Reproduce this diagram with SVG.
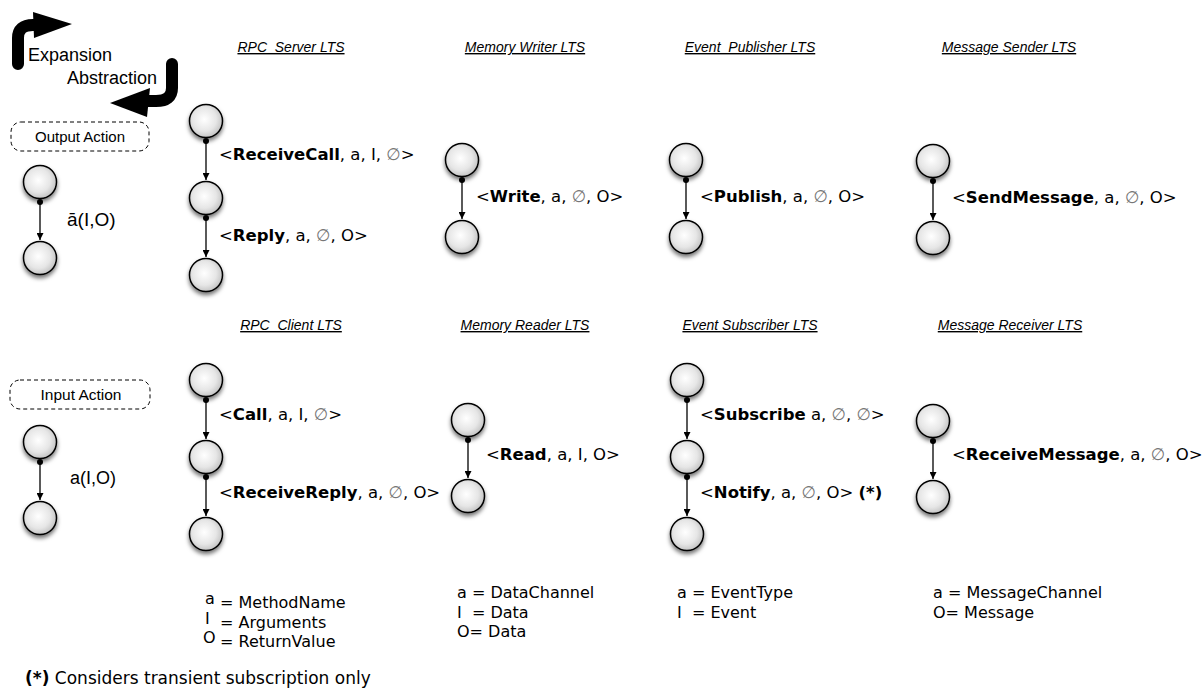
<svg xmlns="http://www.w3.org/2000/svg" width="1202" height="688" viewBox="0 0 1202 688">
<style>
.st{fill:url(#sg);stroke:#000;stroke-width:1.5;filter:url(#sh)}
.ed{stroke:#000;stroke-width:1.3;fill:none;marker-end:url(#ah)}
.dt{fill:#000}
.lb{font-family:"DejaVu Sans",Verdana,sans-serif;font-size:16.5px;fill:#000;white-space:pre}
.lg{font-family:"DejaVu Sans",Verdana,sans-serif;font-size:16px;fill:#000;white-space:pre}
.fn{font-family:"DejaVu Sans",Verdana,sans-serif;font-size:17px;fill:#000}
.b{font-weight:bold}
.e{fill:#777}
.hd{font-family:"Liberation Sans",Arial,sans-serif;font-size:14px;font-style:italic;text-decoration:underline;text-anchor:middle;white-space:pre}
.hv{font-family:"Liberation Sans",Arial,sans-serif;fill:#000}
.bx{fill:none;stroke:#000;stroke-width:1;stroke-dasharray:4 3}
.big{stroke:#000;stroke-width:12;fill:none;stroke-linecap:round;stroke-linejoin:round}
</style>
<defs>
<radialGradient id="sg" cx="0.45" cy="0.45" r="0.6">
<stop offset="0" stop-color="#ffffff"/>
<stop offset="0.6" stop-color="#e6e6e6"/>
<stop offset="1" stop-color="#bdbdbd"/>
</radialGradient>
<filter id="sh" x="-50%" y="-50%" width="200%" height="200%">
<feDropShadow dx="0" dy="3" stdDeviation="2.2" flood-color="#000" flood-opacity="0.55"/>
</filter>
<marker id="ah" viewBox="0 0 10 10" refX="10" refY="5" markerWidth="7" markerHeight="7" markerUnits="userSpaceOnUse" orient="auto">
<path d="M0,0 L10,5 L0,10 z" fill="#000"/>
</marker>
</defs>
<rect width="1202" height="688" fill="#fff"/>

<g id="legend-arrows">
<path class="big" d="M18,64 L18,38 Q18,25 33,25 L38,25"/>
<polygon points="33,12 72,24 34,38" fill="#000"/>
<text class="hv" x="28" y="61" font-size="18">Expansion</text>
<path class="big" d="M172,64 L172,88 Q172,101 156,101 L148,101"/>
<polygon points="150,88 110,103 147,117" fill="#000"/>
<text class="hv" x="67" y="84" font-size="18">Abstraction</text>
</g>

<g id="headings">
<text class="hd" x="291" y="52">RPC  Server LTS</text>
<text class="hd" x="525" y="52">Memory Writer LTS</text>
<text class="hd" x="750" y="52">Event  Publisher LTS</text>
<text class="hd" x="1009" y="52">Message Sender LTS</text>
<text class="hd" x="291" y="330">RPC  Client LTS</text>
<text class="hd" x="525" y="330">Memory Reader LTS</text>
<text class="hd" x="750" y="330">Event Subscriber LTS</text>
<text class="hd" x="1010" y="330">Message Receiver LTS</text>
</g>

<g id="output-action">
<rect class="bx" x="11" y="122" width="138" height="29" rx="10"/>
<text class="hv" x="80" y="142" font-size="15" text-anchor="middle">Output Action</text>
<circle class="st" cx="40" cy="182" r="16.5"/>
<circle class="st" cx="40" cy="258" r="16.5"/>
<text class="hv" x="67" y="226" font-size="19">ā(I,O)</text>
</g>

<g id="input-action">
<rect class="bx" x="10" y="380" width="140" height="29" rx="10"/>
<text class="hv" x="81" y="400" font-size="15.5" text-anchor="middle">Input Action</text>
<circle class="st" cx="40" cy="442" r="16.5"/>
<circle class="st" cx="40" cy="518" r="16.5"/>
<text class="hv" x="70" y="484" font-size="18">a(I,O)</text>
</g>

<g id="rpc-server">
<circle class="st" cx="206" cy="121" r="16.5"/>
<circle class="st" cx="206" cy="198" r="16.5"/>
<circle class="st" cx="206" cy="275" r="16.5"/>
<text class="lb" x="219" y="160">&lt;<tspan class="b">ReceiveCall</tspan>, a, I, <tspan class="e">∅</tspan>&gt;</text>
<text class="lb" x="219" y="241">&lt;<tspan class="b">Reply</tspan>, a, <tspan class="e">∅</tspan>, O&gt;</text>
</g>

<g id="memory-writer">
<circle class="st" cx="462" cy="160" r="16.5"/>
<circle class="st" cx="462" cy="237" r="16.5"/>
<text class="lb" x="476" y="202">&lt;<tspan class="b">Write</tspan>, a, <tspan class="e">∅</tspan>, O&gt;</text>
</g>

<g id="event-publisher">
<circle class="st" cx="686" cy="160" r="16.5"/>
<circle class="st" cx="686" cy="237" r="16.5"/>
<text class="lb" x="700" y="202">&lt;<tspan class="b">Publish</tspan>, a, <tspan class="e">∅</tspan>, O&gt;</text>
</g>

<g id="message-sender">
<circle class="st" cx="933" cy="161" r="16.5"/>
<circle class="st" cx="933" cy="238" r="16.5"/>
<text class="lb" x="952" y="203">&lt;<tspan class="b">SendMessage</tspan>, a, <tspan class="e">∅</tspan>, O&gt;</text>
</g>

<g id="rpc-client">
<circle class="st" cx="206" cy="380" r="16.5"/>
<circle class="st" cx="206" cy="457" r="16.5"/>
<circle class="st" cx="206" cy="534" r="16.5"/>
<text class="lb" x="219" y="420">&lt;<tspan class="b">Call</tspan>, a, I, <tspan class="e">∅</tspan>&gt;</text>
<text class="lb" x="219" y="498">&lt;<tspan class="b">ReceiveReply</tspan>, a, <tspan class="e">∅</tspan>, O&gt;</text>
</g>

<g id="memory-reader">
<circle class="st" cx="468" cy="420" r="16.5"/>
<circle class="st" cx="468" cy="496" r="16.5"/>
<text class="lb" x="486" y="460">&lt;<tspan class="b">Read</tspan>, a, I, O&gt;</text>
</g>

<g id="event-subscriber">
<circle class="st" cx="687" cy="380" r="16.5"/>
<circle class="st" cx="687" cy="457" r="16.5"/>
<circle class="st" cx="687" cy="534" r="16.5"/>
<text class="lb" x="700" y="420">&lt;<tspan class="b">Subscribe</tspan> a, <tspan class="e">∅</tspan>, <tspan class="e">∅</tspan>&gt;</text>
<text class="lb" x="700" y="498">&lt;<tspan class="b">Notify</tspan>, a, <tspan class="e">∅</tspan>, O&gt; <tspan class="b">(*)</tspan></text>
</g>

<g id="message-receiver">
<circle class="st" cx="933" cy="421" r="16.5"/>
<circle class="st" cx="933" cy="497" r="16.5"/>
<text class="lb" x="952" y="460">&lt;<tspan class="b">ReceiveMessage</tspan>, a, <tspan class="e">∅</tspan>, O&gt;</text>
</g>

<g id="connectors">
<line class="ed" x1="40" y1="202" x2="40" y2="240"/><circle class="dt" cx="40" cy="202" r="3"/>
<line class="ed" x1="40" y1="462" x2="40" y2="500"/><circle class="dt" cx="40" cy="462" r="3"/>
<line class="ed" x1="206" y1="141" x2="206" y2="180"/><circle class="dt" cx="206" cy="141" r="3"/>
<line class="ed" x1="206" y1="218" x2="206" y2="257"/><circle class="dt" cx="206" cy="218" r="3"/>
<line class="ed" x1="462" y1="180" x2="462" y2="219"/><circle class="dt" cx="462" cy="180" r="3"/>
<line class="ed" x1="686" y1="180" x2="686" y2="219"/><circle class="dt" cx="686" cy="180" r="3"/>
<line class="ed" x1="933" y1="181" x2="933" y2="220"/><circle class="dt" cx="933" cy="181" r="3"/>
<line class="ed" x1="206" y1="400" x2="206" y2="439"/><circle class="dt" cx="206" cy="400" r="3"/>
<line class="ed" x1="206" y1="477" x2="206" y2="516"/><circle class="dt" cx="206" cy="477" r="3"/>
<line class="ed" x1="468" y1="440" x2="468" y2="478"/><circle class="dt" cx="468" cy="440" r="3"/>
<line class="ed" x1="687" y1="400" x2="687" y2="439"/><circle class="dt" cx="687" cy="400" r="3"/>
<line class="ed" x1="687" y1="477" x2="687" y2="516"/><circle class="dt" cx="687" cy="477" r="3"/>
<line class="ed" x1="933" y1="441" x2="933" y2="479"/><circle class="dt" cx="933" cy="441" r="3"/>
</g>

<g id="legends">
<text class="lg" x="205" y="604">a</text><text class="lg" x="220" y="608">= MethodName</text>
<text class="lg" x="205" y="624">I</text><text class="lg" x="220" y="628">= Arguments</text>
<text class="lg" x="203" y="643">O</text><text class="lg" x="220" y="647">= ReturnValue</text>
<text class="lg" x="457" y="598">a = DataChannel</text>
<text class="lg" x="457" y="618">I  = Data</text>
<text class="lg" x="457" y="637">O= Data</text>
<text class="lg" x="677" y="598">a = EventType</text>
<text class="lg" x="677" y="618">I  = Event</text>
<text class="lg" x="933" y="598">a = MessageChannel</text>
<text class="lg" x="933" y="618">O= Message</text>
<text class="fn" x="25" y="684"><tspan class="b">(*)</tspan> Considers transient subscription only</text>
</g>
</svg>
